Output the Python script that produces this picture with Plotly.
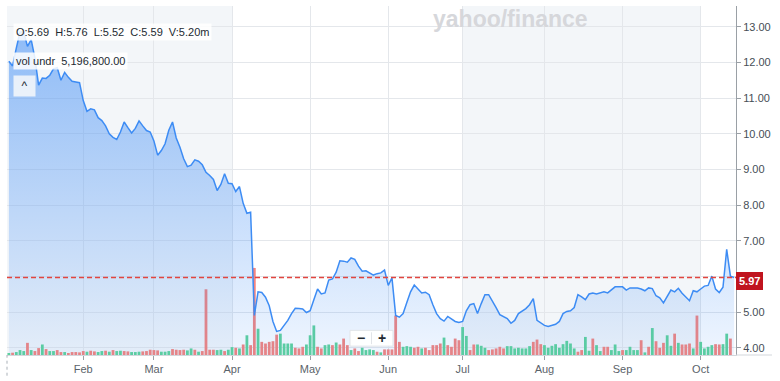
import pandas as pd
import plotly.graph_objects as go

# ---------------- data ----------------
holidays = ["2025-01-09", "2025-01-20", "2025-02-17", "2025-04-18",
            "2025-05-26", "2025-06-19", "2025-07-04", "2025-09-01"]

price_jan = [12.03, 11.90, 12.40, 12.85, 12.85, 12.45, 12.64, 12.12, 11.36, 11.56,
             11.55, 11.64, 11.82, 11.85, 11.50, 11.72, 11.58, 11.47, 11.45, 11.43]
price_feb = [10.93, 10.63, 10.70, 10.67, 10.45, 10.37, 10.22, 10.00, 9.90, 9.84,
             10.05, 10.33, 10.17, 10.02, 10.15, 10.36, 10.22, 10.09, 10.05]
price_mar = [9.80, 9.40, 9.53, 9.72, 10.10, 10.33, 9.88, 9.62, 9.30, 9.08,
             9.12, 9.27, 9.23, 9.13, 8.92, 8.83, 8.72, 8.41, 8.58, 8.88, 8.61]
price_apr = [8.60, 8.38, 8.52, 8.05, 7.77, 7.80, 4.91, 5.57, 5.55, 5.42,
             5.18, 4.74, 4.46, 4.49, 4.63, 4.77, 4.96, 5.11, 5.10, 5.09, 4.99]
price_may = [5.04, 5.35, 5.65, 5.51, 5.54, 5.90, 5.93, 6.12, 6.44, 6.43,
             6.40, 6.52, 6.48, 6.29, 6.15, 6.16, 6.09, 6.04, 6.08, 6.10, 6.18]
price_jun = [5.75, 5.96, 4.91, 4.86, 4.96, 5.27, 5.57, 5.76, 5.65, 5.54,
             5.56, 5.49, 5.21, 4.96, 4.82, 4.75, 4.88, 4.82, 4.74, 4.71]
price_jul = [4.74, 5.04, 5.21, 5.24, 4.96, 5.24, 5.49, 5.49, 5.32, 5.13, 4.93,
             4.88, 4.82, 4.69, 4.77, 4.96, 5.02, 5.10, 5.21, 5.38, 4.77, 4.69]
price_aug = [4.63, 4.60, 4.63, 4.66, 4.74, 4.96, 5.02, 5.04, 5.13, 5.49, 5.43,
             5.35, 5.51, 5.54, 5.51, 5.54, 5.57, 5.54, 5.62, 5.71, 5.71]
price_sep = [5.71, 5.62, 5.68, 5.68, 5.68, 5.65, 5.60, 5.68, 5.66, 5.46, 5.40,
             5.26, 5.45, 5.62, 5.57, 5.67, 5.53, 5.42, 5.32, 5.60, 5.57]
price_oct = [5.65, 5.73, 5.75, 6.01, 5.65, 5.55, 5.70, 6.76, 6.01, 5.97]

vol_jan = [0.6, 0.7, 0.9, 1.5, 1.2, 3.7, 1.5, 1.2, 2.1, 3.2,
           1.8, 1.2, 1.2, 1.5, 0.9, 0.9, 0.6, 0.9, 0.9, 0.8]
vol_feb = [1.2, 1.0, 1.3, 1.1, 0.9, 1.2, 1.3, 1.0, 1.5, 1.2,
           1.3, 1.2, 1.1, 0.9, 0.9, 1.0, 1.1, 1.2, 1.6]
vol_mar = [1.5, 1.4, 1.0, 1.0, 1.2, 1.8, 1.6, 1.5, 1.6, 1.4,
           2.0, 1.6, 1.0, 1.2, 20.0, 1.6, 1.6, 1.5, 1.6, 1.2, 1.6]
vol_apr = [2.4, 2.2, 2.0, 3.2, 6.0, 3.0, 26.5, 8.0, 4.0, 3.5,
           4.0, 4.2, 6.2, 6.5, 3.5, 3.5, 3.5, 2.2, 2.0, 2.5, 3.2]
vol_may = [6.0, 9.0, 2.5, 2.0, 3.0, 3.2, 3.0, 3.8, 3.2, 5.0,
           3.0, 1.5, 2.0, 1.2, 2.2, 1.5, 1.7, 1.5, 1.0, 0.8, 1.7]
vol_jun = [1.7, 1.7, 12.0, 4.0, 2.5, 2.7, 2.5, 2.2, 2.5, 2.0,
           2.2, 1.5, 3.0, 3.0, 3.5, 5.3, 3.0, 2.5, 5.0, 4.5]
vol_jul = [8.5, 5.8, 1.5, 3.2, 3.2, 2.8, 2.2, 1.5, 1.7, 2.0, 2.5,
           2.0, 2.7, 2.7, 2.0, 2.2, 2.0, 2.0, 2.7, 4.0, 4.7, 3.3]
vol_aug = [3.0, 2.2, 2.8, 3.3, 2.2, 3.3, 4.3, 3.5, 2.0, 1.0, 1.5,
           5.5, 1.3, 5.0, 3.0, 1.2, 2.5, 2.5, 1.5, 3.2, 1.2]
vol_sep = [1.5, 1.5, 2.5, 1.5, 1.5, 4.5, 0.8, 2.5, 8.2, 4.2, 2.2,
           3.7, 6.0, 2.8, 6.5, 3.7, 3.2, 3.2, 3.5, 2.0, 12.0]
vol_oct = [4.0, 2.0, 2.5, 3.0, 3.3, 3.2, 3.3, 6.5, 5.0, None]

# g = up day (green), r = down day (red)
dir_jan = "grgggrgrrgrggrrgrrrr"
dir_feb = "rgrrggrgrggrrgggrrr"
dir_mar = "rrgggrrrrggrgrrrrggrg"
dir_apr = "grgrgrrgrrrrrggggrrrg"
dir_may = "ggrrggrgrrrgrrggggrgr"
dir_jun = "rrrrgggrrgrrrrrgrrrr"
dir_jul = "ggrrgggrrrrrgggggggrrr"
dir_aug = "gggggggggrrggrggrrggg"
dir_sep = "rggggrgrgrrrggrgrrrgr"
dir_oct = "ggggrrggrr"

last_price = 5.97
price_ticks = [4, 5, 6, 7, 8, 9, 10, 11, 12, 13]
ohlc_text = "O:5.69  H:5.76  L:5.52  C:5.59  V:5.20m"
vol_text = "vol undr  5,196,800.00"

# ---------------- assemble ----------------
price = (price_jan + price_feb + price_mar + price_apr + price_may + price_jun
         + price_jul + price_aug + price_sep + price_oct)
volume = (vol_jan + vol_feb + vol_mar + vol_apr + vol_may + vol_jun
          + vol_jul + vol_aug + vol_sep + vol_oct)
dirs = (dir_jan + dir_feb + dir_mar + dir_apr + dir_may + dir_jun
        + dir_jul + dir_aug + dir_sep + dir_oct)

days = pd.bdate_range("2025-01-02", "2025-10-14")
days = days[~days.isin(pd.to_datetime(holidays))]
N = len(price)
days = days[:N]
idx = list(range(N))

tickvals, ticktext = [], []
for i in range(1, N):
    if days[i].month != days[i - 1].month:
        tickvals.append(i)
        ticktext.append(days[i].strftime("%b"))

GREEN, RED = "#5fd39b", "#f5847e"
bar_colors = [GREEN if d == "g" else RED for d in dirs]

# ---------------- geometry helpers ----------------
W, H = 780, 381
ML, MR, MT, MB = 7, 44, 6, 21
PW, PH = W - ML - MR, H - MT - MB
FONT = "Liberation Sans, Arial, sans-serif"


def fx(px):
    return (px - ML) / PW


def fy(py):
    return (H - MB - py) / PH


fig = go.Figure()

fig.add_trace(go.Bar(
    x=idx, y=volume, yaxis="y", marker=dict(color=bar_colors, line=dict(width=0)),
    hoverinfo="skip"))

fig.add_trace(go.Scatter(
    x=idx, y=price, yaxis="y2", mode="lines",
    line=dict(color="#3d8cf4", width=1.5),
    fill="tozeroy",
    fillgradient=dict(type="vertical",
                      colorscale=[[0, "rgba(45,130,245,0.07)"],
                                  [1, "rgba(45,130,245,0.52)"]],
                      start=3.8, stop=13.2),
    hoverinfo="skip"))

shapes = [
    # quarter shading
    dict(type="rect", xref="x", yref="paper", x0=-0.5, x1=tickvals[2], y0=0, y1=1,
         fillcolor="#f3f6f9", line=dict(width=0), layer="below"),
    dict(type="rect", xref="x", yref="paper", x0=tickvals[5], x1=tickvals[8], y0=0, y1=1,
         fillcolor="#f3f6f9", line=dict(width=0), layer="below"),
    # last price dashed line
    dict(type="line", xref="paper", yref="y2", x0=0, x1=1, y0=last_price, y1=last_price,
         line=dict(color="#e2453f", width=1.5, dash="5px,3px")),
    # x-axis baseline extension under the price labels
    dict(type="line", xref="paper", yref="paper", x0=1, x1=fx(772), y0=0, y1=0,
         line=dict(color="#d3d7dc", width=1)),
    # dotted left edge below axis
    dict(type="line", xref="paper", yref="paper", x0=0, x1=0, y0=fy(381), y1=0,
         line=dict(color="#aab1b8", width=1, dash="dot")),
    # zoom buttons box
    dict(type="rect", xref="paper", yref="paper", x0=fx(350), x1=fx(393),
         y0=fy(351), y1=fy(335), fillcolor="rgba(255,255,255,0.95)",
         line=dict(color="#e1e4e8", width=1)),
    dict(type="line", xref="paper", yref="paper", x0=fx(371.5), x1=fx(371.5),
         y0=fy(349), y1=fy(337), line=dict(color="#e1e4e8", width=1)),
]

annotations = [
    dict(text="<b>yahoo/finance</b>", xref="paper", yref="paper", x=fx(510), y=fy(19),
         xanchor="center", yanchor="middle", showarrow=False,
         font=dict(size=23, color="#d6d7db", family=FONT)),
    dict(text=ohlc_text.replace(" ", "\u00a0"), xref="paper", yref="paper",
         x=fx(13), y=fy(32.5), xanchor="left", yanchor="middle", showarrow=False,
         bgcolor="rgba(255,255,255,0.85)", borderpad=2,
         font=dict(size=11, color="#232a31", family=FONT)),
    dict(text=vol_text.replace(" ", "\u00a0"), xref="paper", yref="paper",
         x=fx(13), y=fy(61.5), xanchor="left", yanchor="middle", showarrow=False,
         bgcolor="rgba(255,255,255,0.85)", borderpad=2,
         font=dict(size=11, color="#232a31", family=FONT)),
    dict(text="^", xref="paper", yref="paper", x=fx(13), y=fy(87), xanchor="left",
         yanchor="middle", showarrow=False, width=19, height=18,
         bgcolor="rgba(240,244,250,0.92)",
         font=dict(size=12, color="#232a31", family=FONT)),
    dict(text="<b>\u2212</b>", xref="paper", yref="paper", x=fx(361), y=fy(343),
         xanchor="center", yanchor="middle", showarrow=False,
         font=dict(size=14, color="#232a31", family=FONT)),
    dict(text="<b>+</b>", xref="paper", yref="paper", x=fx(382), y=fy(343),
         xanchor="center", yanchor="middle", showarrow=False,
         font=dict(size=14, color="#232a31", family=FONT)),
    dict(text=f"<b>{last_price:.2f}</b>", xref="paper", yref="y2", x=1, y=last_price,
         xanchor="left", yanchor="middle", yshift=-3, showarrow=False,
         bgcolor="#c0141f", bordercolor="#c0141f", borderpad=2,
         font=dict(size=11, color="white", family=FONT)),
]

# the 6.00 label sits under the last-price tag in the reference
price_ticktext = ["" if v == 6 else f"{v:.2f}" for v in price_ticks]

fig.update_layout(
    width=W, height=H, autosize=False,
    margin=dict(l=ML, r=MR, t=MT, b=MB, pad=0),
    paper_bgcolor="white", plot_bgcolor="white",
    showlegend=False, bargap=0.25,
    xaxis=dict(range=[-0.5, N - 0.5], tickvals=tickvals, ticktext=ticktext,
               showgrid=True, gridcolor="#e4e7eb", gridwidth=1,
               ticks="outside", ticklen=4, tickcolor="#9aa0a6",
               showline=True, linecolor="#d3d7dc", zeroline=False,
               tickfont=dict(size=11, color="#5b636a", family=FONT)),
    yaxis=dict(range=[0, PH * 0.3], visible=False, showgrid=False),
    yaxis2=dict(overlaying="y", side="right", anchor="x",
                range=[3.80, 13.58], tickvals=price_ticks,
                ticktext=price_ticktext,
                showgrid=True, gridcolor="#e4e7eb", gridwidth=1,
                ticks="outside", ticklen=4, tickcolor="#9aa0a6",
                showline=True, linecolor="#9aa0a6", zeroline=False,
                tickfont=dict(size=11, color="#464e56", family=FONT)),
    shapes=shapes, annotations=annotations,
)

fig.write_html(
    "out.html",
    config={"displayModeBar": False},
    post_script="document.body.style.margin='0';document.body.style.padding='0';"
                "document.body.style.overflow='hidden';",
)
